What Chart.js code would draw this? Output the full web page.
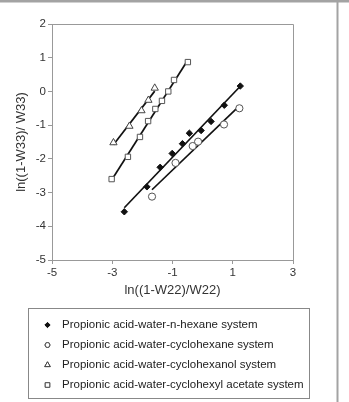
<!DOCTYPE html>
<html>
<head>
<meta charset="utf-8">
<script src="https://cdn.jsdelivr.net/npm/chart.js@4.4.1/dist/chart.umd.min.js"></script>
<style>
html,body{margin:0;padding:0;background:#fff;}
#wrap{position:relative;width:349px;height:402px;}
</style>
</head>
<body>
<div id="wrap"><canvas id="c" width="349" height="402"></canvas></div>
<script>
// ---- data ----
const seriesLabels = [
  "Propionic acid-water-n-hexane system",
  "Propionic acid-water-cyclohexane system",
  "Propionic acid-water-cyclohexanol system",
  "Propionic acid-water-cyclohexyl acetate system"
];
const hexaneX = [-2.6, -1.85, -1.41, -1.01, -0.67, -0.44, -0.05, 0.28, 0.72, 1.25];
const hexaneY = [-3.57, -2.83, -2.25, -1.84, -1.55, -1.24, -1.16, -0.89, -0.41, 0.16];
const cyclohexaneX = [-1.68, -0.9, -0.33, -0.15, 0.71, 1.22];
const cyclohexaneY = [-3.12, -2.12, -1.62, -1.49, -0.98, -0.5];
const cyclohexanolX = [-2.96, -2.43, -2.03, -1.8, -1.59];
const cyclohexanolY = [-1.52, -1.03, -0.57, -0.26, 0.1];
const acetateX = [-3.02, -2.48, -2.08, -1.81, -1.57, -1.35, -1.14, -0.95, -0.49];
const acetateY = [-2.6, -1.94, -1.35, -0.88, -0.52, -0.28, 0.0, 0.34, 0.87];
const xTicks = [-5, -3, -1, 1, 3];
const yTicks = [2, 1, 0, -1, -2, -3, -4, -5];
const xTitle = "ln((1-W22)/W22)";
const yTitle = "ln((1-W33)/ W33)";

// ---- styles ----
const styles = [
  {pointStyle:'rectRot', radius:3.2, bg:'#111', border:'#111', bw:1, lr:2.6},
  {pointStyle:'circle', radius:3.6, bg:'#fff', border:'#555', bw:1, lr:2.4},
  {pointStyle:'triangle', radius:4.2, bg:'#fff', border:'#444', bw:1, lr:3.2},
  {pointStyle:'rect', radius:3.8, bg:'#fff', border:'#555', bw:1, lr:3.2}
];
const allX = [hexaneX, cyclohexaneX, cyclohexanolX, acetateX];
const allY = [hexaneY, cyclohexaneY, cyclohexanolY, acetateY];

function pts(xs, ys){ return xs.map((x,i)=>({x:x, y:ys[i]})); }
function fit(xs, ys){
  const n = xs.length;
  const mx = xs.reduce((a,b)=>a+b,0)/n, my = ys.reduce((a,b)=>a+b,0)/n;
  let sxy=0, sxx=0;
  for(let i=0;i<n;i++){ sxy += (xs[i]-mx)*(ys[i]-my); sxx += (xs[i]-mx)*(xs[i]-mx); }
  const b = sxy/sxx, a = my - b*mx;
  const x0 = Math.min(...xs), x1 = Math.max(...xs);
  return [{x:x0, y:a+b*x0}, {x:x1, y:a+b*x1}];
}

const datasets = [];
allX.forEach((xs, i)=>{
  const s = styles[i];
  datasets.push({
    label: seriesLabels[i], data: pts(xs, allY[i]), showLine:false, order:0,
    pointStyle:s.pointStyle, pointRadius:s.radius, pointHoverRadius:s.radius,
    backgroundColor:s.bg, borderColor:s.border, borderWidth:s.bw
  });
});
allX.forEach((xs, i)=>{
  datasets.push({
    label: seriesLabels[i] + " fit", data: fit(xs, allY[i]), showLine:true, order:1,
    pointRadius:0, borderColor:'#111', borderWidth:1.7, backgroundColor:'#111'
  });
});

const FONT = "'Liberation Sans', Arial, Helvetica, sans-serif";

const decor = {
  id:'decor',
  beforeDraw(chart){
    const ctx = chart.ctx;
    ctx.save();
    ctx.fillStyle = '#fff';
    ctx.fillRect(0,0,chart.width,chart.height);
    ctx.restore();
  },
  afterDraw(chart){
    const ctx = chart.ctx, a = chart.chartArea;
    ctx.save();
    // plot frame
    ctx.strokeStyle = '#999';
    ctx.lineWidth = 1;
    ctx.beginPath();
    ctx.moveTo(a.left, a.top+0.5); ctx.lineTo(a.right+0.5, a.top+0.5); ctx.lineTo(a.right+0.5, a.bottom);
    ctx.stroke();
    // outer figure frame
    ctx.fillStyle = '#a3a3a3';
    ctx.fillRect(0, 0, chart.width, 2.5);
    ctx.fillRect(336.5, 0, 2, chart.height);
    // legend box
    ctx.strokeStyle = '#888';
    ctx.lineWidth = 1;
    ctx.strokeRect(28.5, 308.5, 281, 90);
    ctx.font = "11.5px " + FONT;
    ctx.fillStyle = '#222';
    ctx.textBaseline = 'middle';
    ctx.textAlign = 'left';
    seriesLabels.forEach((lab, i)=>{
      const y = 325 + i*20;
      const s = styles[i];
      Chart.helpers.drawPoint(ctx, {pointStyle:s.pointStyle, radius:s.lr, borderWidth:1, rotation:0},
        47.5, y);
      ctx.fillStyle = s.bg; ctx.strokeStyle = s.border; ctx.lineWidth = 1;
      ctx.fill(); ctx.stroke();
      ctx.fillStyle = '#222';
      ctx.fillText(lab, 62, y);
    });
    ctx.restore();
  }
};

new Chart(document.getElementById('c'), {
  type:'scatter',
  data:{datasets:datasets},
  options:{
    responsive:false, animation:false, devicePixelRatio:1,
    layout:{padding:{left:10, right:56, top:24, bottom:100}},
    plugins:{legend:{display:false}, tooltip:{enabled:false}},
    scales:{
      x:{
        type:'linear', min:-5, max:3,
        afterBuildTicks:(s)=>{ s.ticks = xTicks.map(v=>({value:v})); },
        afterFit:(s)=>{ s.height = 42; },
        ticks:{font:{family:FONT, size:11.5}, color:'#333', padding:2, maxRotation:0},
        grid:{display:true, drawOnChartArea:false, drawTicks:true, tickLength:4, color:'#999'},
        border:{display:true, color:'#999'},
        title:{display:true, text:xTitle, font:{family:FONT, size:13}, color:'#333', padding:{top:2,bottom:4}}
      },
      y:{
        type:'linear', min:-5, max:2,
        afterBuildTicks:(s)=>{ s.ticks = yTicks.map(v=>({value:v})); },
        afterFit:(s)=>{ s.width = 42; },
        ticks:{font:{family:FONT, size:11.5}, color:'#333', padding:2},
        grid:{display:true, drawOnChartArea:false, drawTicks:true, tickLength:4, color:'#999'},
        border:{display:true, color:'#999'},
        title:{display:true, text:yTitle, font:{family:FONT, size:13}, color:'#333', padding:{top:4,bottom:2}}
      }
    }
  },
  plugins:[decor]
});
</script>
</body>
</html>
